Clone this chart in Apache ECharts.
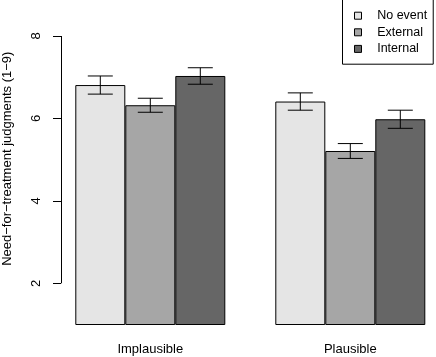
<!DOCTYPE html>
<html>
<head>
<meta charset="utf-8">
<script src="https://cdn.jsdelivr.net/npm/echarts@6/dist/echarts.min.js"></script>
<style>html,body{margin:0;padding:0;background:#fff}#c{width:436px;height:357px}</style>
</head>
<body>
<div id="c"></div>
<script>
var categories = ['Implausible', 'Plausible'];
var seriesNames = ['No event', 'External', 'Internal'];
var noEventMeans = [6.81, 6.41];
var externalMeans = [6.32, 5.21];
var internalMeans = [7.03, 5.98];
var noEventErr = [0.22, 0.21];
var externalErr = [0.17, 0.18];
var internalErr = [0.20, 0.22];
var yTickLabels = [2, 4, 6, 8];
var yAxisTitle = 'Need\u2212for\u2212treatment judgments (1\u22129)';

var colors = ['#e5e5e5', '#a6a6a6', '#666666'];
var groupCenters = [2.5, 6.5];
var offsets = [-1, 0, 1];
var means = [noEventMeans, externalMeans, internalMeans];
var errs = [noEventErr, externalErr, internalErr];
var xMin = 0.714, xMax = 8.214;
var FONT = 'Liberation Sans, Arial, sans-serif';

var series = [];
var errData = [];
for (var s = 0; s < 3; s++) {
  var d = [];
  for (var g = 0; g < categories.length; g++) {
    var x = groupCenters[g] + offsets[s];
    d.push([x, means[s][g]]);
    errData.push([x, means[s][g], errs[s][g]]);
  }
  series.push({
    name: seriesNames[s],
    type: 'bar',
    data: d,
    barWidth: 50,
    barGap: '-100%',
    z: 2,
    itemStyle: { color: colors[s], borderColor: '#000', borderWidth: 1 },
    emphasis: { disabled: true },
    animation: false
  });
}
series.push({
  type: 'custom',
  data: errData,
  z: 5,
  animation: false,
  silent: true,
  renderItem: function (params, api) {
    var x = api.value(0), m = api.value(1), e = api.value(2);
    var top = api.coord([x, m + e]);
    var bot = api.coord([x, m - e]);
    var hw = 12.5;
    var st = { stroke: '#000', lineWidth: 1 };
    return {
      type: 'group',
      children: [
        { type: 'line', shape: { x1: top[0], y1: top[1], x2: bot[0], y2: bot[1] }, style: st },
        { type: 'line', shape: { x1: top[0] - hw, y1: top[1], x2: top[0] + hw, y2: top[1] }, style: st },
        { type: 'line', shape: { x1: bot[0] - hw, y1: bot[1], x2: bot[0] + hw, y2: bot[1] }, style: st }
      ]
    };
  },
  markLine: {
    silent: true,
    symbol: 'none',
    label: { show: false },
    lineStyle: { color: '#000', width: 1, type: 'solid' },
    data: [[{ coord: [xMin, yTickLabels[0]] }, { coord: [xMin, yTickLabels[yTickLabels.length - 1]] }]],
    animation: false
  }
});

var chart = echarts.init(document.getElementById('c'), null, { renderer: 'canvas' });
chart.setOption({
  animation: false,
  backgroundColor: '#fff',
  grid: { left: 61, right: 0, top: 15.4, bottom: 32.5, containLabel: false },
  xAxis: {
    type: 'value', min: xMin, max: xMax,
    axisLine: { show: false }, axisTick: { show: false }, splitLine: { show: false },
    axisLabel: {
      customValues: groupCenters,
      margin: 18,
      color: '#000', fontFamily: FONT, fontSize: 13,
      formatter: function (v) { var i = groupCenters.indexOf(v); return i >= 0 ? categories[i] : ''; }
    }
  },
  yAxis: {
    type: 'value', min: 1, max: 8.5,
    axisLine: { show: false },
    splitLine: { show: false },
    axisTick: { show: true, customValues: yTickLabels, length: 8, lineStyle: { color: '#000' } },
    axisLabel: {
      customValues: yTickLabels, rotate: 90, margin: 18,
      color: '#000', fontFamily: FONT, fontSize: 13
    }
  },
  legend: {
    orient: 'vertical',
    left: 342.5, top: -1,
    data: seriesNames,
    icon: 'rect',
    itemWidth: 7, itemHeight: 7, itemGap: 2.6,
    padding: [9.7, 6, 8.3, 11.5],
    borderColor: '#000', borderWidth: 1,
    itemStyle: { borderColor: '#000', borderWidth: 1 },
    textStyle: { color: '#000', fontFamily: FONT, fontSize: 12.5, lineHeight: 14, padding: [0, 0, 0, 10.7] },
    selectedMode: false
  },
  graphic: [{
    type: 'text', x: 7, y: 158.7, rotation: Math.PI / 2,
    style: { text: yAxisTitle, align: 'center', verticalAlign: 'middle', fill: '#000', font: '13px ' + FONT }
  }],
  series: series
});
</script>
</body>
</html>
